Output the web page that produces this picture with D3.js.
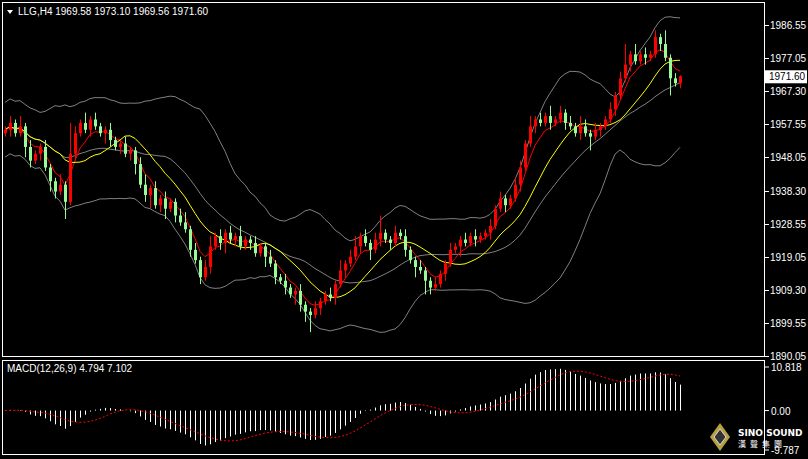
<!DOCTYPE html>
<html><head><meta charset="utf-8">
<script src="https://cdn.jsdelivr.net/npm/d3@7"></script>
<style>body{margin:0;background:#000}svg{display:block}</style></head>
<body><svg id="c" width="808" height="459"></svg>
<script>
const closes=[1956,1958,1955,1957,1951,1947,1949,1951,1945,1941,1938,1940,1935,1949,1955,1958,1956,1959,1957,1955,
1956,1953,1951,1952,1949,1950,1946,1940,1937,1939,1934,1936,1933,1935,1931,1929,1927,1921,1918,1913,
1916,1922,1925,1923,1926,1924,1925,1922,1924,1923,1920,1922,1919,1917,1913,1912,1910,1908,1909,1905,
1903,1902,1904,1906,1908,1907,1911,1915,1917,1919,1922,1925,1923,1921,1924,1926,1924,1923,1926,1925,
1921,1918,1916,1915,1912,1910,1911,1914,1917,1921,1922,1924,1923,1925,1924,1925,1926,1928,1933,1936,
1934,1936,1940,1945,1952,1957,1959,1958,1960,1958,1959,1961,1958,1957,1955,1957,1955,1954,1956,1957,
1959,1962,1966,1971,1975,1978,1976,1978,1977,1978,1983,1981,1977,1971,1969.58,1971.6];
const firstOpen=1955;
const wickHi=[1,2,1,3,1,2,1,1,2,1,1,3,1,9,2,1,3,1,2,1,1,2,1,1,2,1,1,2,3,1,2,1,2,1,1,2,3,1,2,1,
2,3,1,2,1,2,1,3,1,1,2,1,1,2,1,1,2,1,1,2,1,1,2,1,1,2,1,3,1,2,3,1,2,1,2,5,1,1,2,1,
2,1,1,2,1,1,2,1,1,2,1,1,2,1,2,1,1,2,1,2,1,1,2,2,1,3,1,2,1,3,1,2,1,2,1,3,2,1,2,1,
1,2,1,2,6,1,3,1,2,1,2,1,4,1,1.5,0.3];
const wickLo=[1,2,1,1,3,2,1,2,1,3,2,1,5,1,2,1,1,2,1,1,3,2,1,2,1,2,3,1,2,4,1,2,3,1,2,1,1,2,1,2,
1,2,1,2,3,1,2,1,1,2,1,1,3,1,2,1,2,1,3,2,3,5,1,2,1,1,2,1,2,1,1,2,1,3,1,2,1,2,1,1,
2,1,3,1,4,2,1,1,2,1,1,3,1,1,2,1,1,2,1,1,2,1,1,2,1,1,2,1,1,2,1,1,2,1,1,2,1,4,1,2,
1,1,2,1,1,2,1,1,2,1,1,2,1,5,1,1.5];
const priceTicks=[1986.55,1977.05,1967.30,1957.55,1948.05,1938.30,1928.55,1919.05,1909.30,1899.55,1890.05];
const macdTicks=[10.818,0,-9.787];
const headerText="LLG,H4  1969.58 1973.10 1969.56 1971.60";
const macdLabel="MACD(12,26,9) 4.794 7.102";

const svg=d3.select("#c");
const font="'Liberation Sans', Arial, sans-serif";
const candles=closes.map((c,i)=>{const o=i?closes[i-1]:firstOpen;return{o,c,h:Math.max(o,c)+wickHi[i],l:Math.min(o,c)-wickLo[i]};});
const x=d3.scaleLinear().domain([0,closes.length-1]).range([5,680]);
const y=d3.scaleLinear().domain([1890.05,1986.55]).range([356,25]);
const ym=d3.scaleLinear().domain([-9.787,10.818]).range([450,367]);

svg.append("rect").attr("x",2.5).attr("y",2.5).attr("width",762).attr("height",354).attr("fill","none").attr("stroke","#fff");
svg.append("rect").attr("x",2.5).attr("y",360.5).attr("width",762).attr("height",94).attr("fill","none").attr("stroke","#fff");

function sma(a,n){return a.map((v,i)=>d3.mean(a.slice(Math.max(0,i-n+1),i+1)));}
function ema(a,n){const k=2/(n+1);let e=a[0];return a.map(v=>e=v*k+e*(1-k));}
const mid=sma(closes,20);
const sd=closes.map((v,i)=>{const s=closes.slice(Math.max(0,i-19),i+1);return s.length>1?d3.deviation(s):3;});
const up=mid.map((m,i)=>m+2*Math.max(sd[i],4)),dn=mid.map((m,i)=>m-2*Math.max(sd[i],4));
const line=d3.line().x((d,i)=>x(i)).y(d=>y(d));
const g=svg.append("g");
[up,mid,dn].forEach(a=>g.append("path").attr("d",line(a)).attr("fill","none").attr("stroke","#808080").attr("stroke-width",1));
g.append("path").attr("d",line(ema(closes,5))).attr("fill","none").attr("stroke","#ff0000").attr("stroke-width",1);
g.append("path").attr("d",line(sma(closes,12))).attr("fill","none").attr("stroke","#ffff00").attr("stroke-width",1);

const cg=svg.append("g");
candles.forEach((d,i)=>{const col=d.c>=d.o?"#ff0000":"#98fb98";const cx=Math.round(x(i))+0.5;
cg.append("line").attr("x1",cx).attr("x2",cx).attr("y1",y(d.h)).attr("y2",y(d.l)).attr("stroke",col);
const t=y(Math.max(d.o,d.c)),b=y(Math.min(d.o,d.c));
cg.append("rect").attr("x",cx-1.5).attr("y",t).attr("width",3).attr("height",Math.max(1,b-t)).attr("fill",col);});

priceTicks.forEach(p=>{svg.append("line").attr("x1",765).attr("x2",769).attr("y1",Math.round(y(p))+0.5).attr("y2",Math.round(y(p))+0.5).attr("stroke","#fff");
svg.append("text").attr("x",770).attr("y",y(p)+4).attr("fill","#fff").attr("font-family",font).attr("font-size",10).text(p.toFixed(2));});
const last=closes[closes.length-1];
svg.append("rect").attr("x",765).attr("y",y(last)-6).attr("width",42).attr("height",13).attr("fill","#fff");
svg.append("text").attr("x",769).attr("y",y(last)+4).attr("fill","#000").attr("font-family",font).attr("font-size",10).text(last.toFixed(2));

svg.append("path").attr("d","M7,10 L13,10 L10,14 Z").attr("fill","#fff");
svg.append("text").attr("x",18).attr("y",15).attr("fill","#fff").attr("font-family",font).attr("font-size",10).text(headerText);

const e26=ema(closes,26);
const macd=ema(closes,12).map((v,i)=>v-e26[i]);
const sig=sma(macd,9);
const mg=svg.append("g");
macd.forEach((v,i)=>mg.append("line").attr("x1",Math.round(x(i))+0.5).attr("x2",Math.round(x(i))+0.5).attr("y1",ym(0)).attr("y2",ym(v)).attr("stroke","#fff").attr("stroke-width",1));
mg.append("path").attr("d",d3.line().x((d,i)=>x(i)).y(d=>ym(d))(sig)).attr("fill","none").attr("stroke","#ff0000").attr("stroke-dasharray","2,2");
svg.append("text").attr("x",7).attr("y",372).attr("fill","#fff").attr("font-family",font).attr("font-size",10).text(macdLabel);
macdTicks.forEach(v=>{svg.append("line").attr("x1",765).attr("x2",769).attr("y1",ym(v)).attr("y2",ym(v)).attr("stroke","#fff");
svg.append("text").attr("x",771).attr("y",ym(v)+4).attr("fill","#fff").attr("font-family",font).attr("font-size",10).text(v===0?"0.00":v.toFixed(3));});

const lg=svg.append("g").attr("transform","translate(720,437)");
lg.append("path").attr("d","M0,-14 L10,0 L0,14 L-10,0 Z").attr("fill","#b8a040");
lg.append("path").attr("d","M0,-8 L6,0 L0,8 L-6,0 Z").attr("fill","#333").attr("stroke","#ddd");
svg.append("text").attr("x",738).attr("y",436).attr("fill","#fff").attr("font-family","'DejaVu Sans'").attr("font-weight","bold").attr("font-size",9).text("SINO SOUND");
svg.append("text").attr("x",738).attr("y",447).attr("fill","#fff").attr("font-family","'Noto Sans CJK TC'").attr("font-size",8).attr("letter-spacing",4).text("漢聲集團");
</script></body></html>
